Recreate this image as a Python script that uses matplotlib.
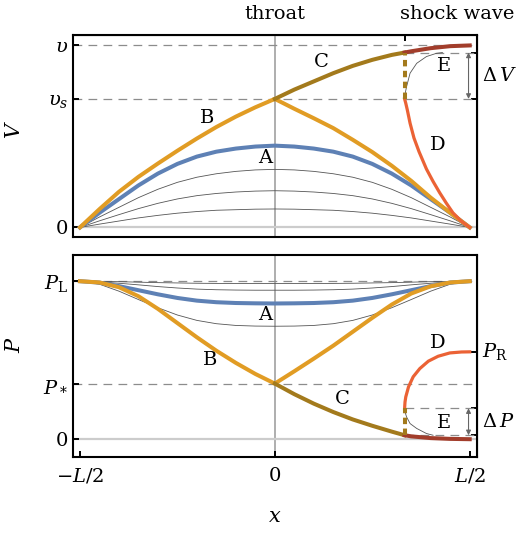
import numpy as np
import matplotlib.pyplot as plt
from matplotlib.transforms import blended_transform_factory

plt.rcParams['font.family'] = 'DejaVu Serif'
plt.rcParams['mathtext.fontset'] = 'dejavuserif'

# positions along the nozzle (units of L)
x = [-0.5, -0.45, -0.4, -0.35, -0.3, -0.25, -0.2, -0.15, -0.1, -0.05, 0.0,
     0.05, 0.1, 0.15, 0.2, 0.25, 0.3, 0.35, 0.4, 0.45, 0.5]

# speed, in units of v
v_s = 0.704
v_shock = 0.958
x_shock = 0.333
v_a = [0, 0.08, 0.155, 0.23, 0.295, 0.348, 0.388, 0.415, 0.432, 0.443, 0.448,
       0.443, 0.432, 0.415, 0.388, 0.348, 0.295, 0.23, 0.155, 0.08, 0]
v_thin1 = [0, 0.057, 0.11, 0.163, 0.209, 0.247, 0.275, 0.294, 0.307, 0.315, 0.318,
           0.315, 0.307, 0.294, 0.275, 0.247, 0.209, 0.163, 0.11, 0.057, 0]
v_thin2 = [0, 0.036, 0.07, 0.103, 0.132, 0.156, 0.174, 0.186, 0.194, 0.199, 0.201,
           0.199, 0.194, 0.186, 0.174, 0.156, 0.132, 0.103, 0.07, 0.036, 0]
v_thin3 = [0, 0.018, 0.035, 0.052, 0.066, 0.078, 0.087, 0.094, 0.097, 0.100, 0.101,
           0.100, 0.097, 0.094, 0.087, 0.078, 0.066, 0.052, 0.035, 0.018, 0]
v_b = [0, 0.1, 0.195, 0.277, 0.35, 0.42, 0.487, 0.55, 0.607, 0.658, 0.704,
       0.65, 0.598, 0.544, 0.48, 0.413, 0.338, 0.255, 0.163, 0.08, 0]
x_c = [0, 0.05, 0.1, 0.15, 0.2, 0.25, 0.3, 0.333]
v_c = [0.704, 0.755, 0.80, 0.845, 0.885, 0.918, 0.945, 0.958]
x_post = [0.333, 0.35, 0.4, 0.45, 0.5]
v_post = [0.958, 0.965, 0.982, 0.993, 0.997]
x_d = [0.333, 0.336, 0.340, 0.347, 0.357, 0.370, 0.389, 0.406, 0.423, 0.44, 0.457, 0.478, 0.5]
v_d = [0.704, 0.680, 0.643, 0.571, 0.49, 0.415, 0.32, 0.252, 0.19, 0.133, 0.08, 0.035, 0]
x_e = [0.333, 0.335, 0.338, 0.347, 0.364, 0.389, 0.415, 0.43]
v_e = [0.704, 0.740, 0.771, 0.845, 0.899, 0.936, 0.954, 0.958]

# pressure, in units of P_L
p_star = 0.352
p_R = 0.553
p_hi = 0.196
p_lo = 0.025
p_a = [1, 0.991, 0.969, 0.943, 0.917, 0.894, 0.877, 0.867, 0.862, 0.860, 0.859,
       0.860, 0.862, 0.867, 0.877, 0.894, 0.917, 0.943, 0.969, 0.991, 1]
p_thin1 = [1, 0.999, 0.997, 0.994, 0.991, 0.989, 0.987, 0.986, 0.985, 0.985, 0.985,
           0.985, 0.985, 0.986, 0.987, 0.989, 0.991, 0.994, 0.997, 0.999, 1]
p_thin2 = [1, 0.996, 0.987, 0.977, 0.966, 0.957, 0.950, 0.946, 0.944, 0.943, 0.943,
           0.943, 0.944, 0.946, 0.950, 0.957, 0.966, 0.977, 0.987, 0.996, 1]
p_thin3 = [1, 0.981, 0.937, 0.884, 0.832, 0.786, 0.752, 0.731, 0.720, 0.716, 0.715,
           0.716, 0.720, 0.731, 0.752, 0.786, 0.832, 0.884, 0.937, 0.981, 1]
p_b = [1, 0.992, 0.962, 0.905, 0.825, 0.735, 0.645, 0.56, 0.483, 0.413, 0.352,
       0.43, 0.51, 0.592, 0.68, 0.768, 0.852, 0.922, 0.968, 0.992, 1]
p_c = [0.352, 0.285, 0.225, 0.172, 0.125, 0.085, 0.048, 0.025]
p_post = [0.025, 0.018, 0.007, 0.002, 0.0]
x_dp = [0.333, 0.334, 0.336, 0.343, 0.355, 0.372, 0.394, 0.419, 0.449, 0.479, 0.5]
p_d = [0.196, 0.235, 0.268, 0.331, 0.395, 0.447, 0.494, 0.525, 0.546, 0.552, 0.553]
x_ep = [0.333, 0.335, 0.338, 0.347, 0.364, 0.389, 0.406]
p_e = [0.196, 0.165, 0.141, 0.099, 0.068, 0.036, 0.025]

BLUE = '#5E81B5'
ORANGE = '#E19C24'
RED = '#EB6235'
BROWN = '#A37A1C'
DARKRED = '#A23D2B'
DASH = '#8C8C8C'
FS = 14

fig = plt.figure(figsize=(5.21, 5.36), dpi=100)
ax1 = fig.add_axes([0.140, 0.558, 0.775, 0.377])
ax2 = fig.add_axes([0.140, 0.147, 0.775, 0.377])

thick = 2.9
dash_kw = dict(color=DASH, lw=0.9, linestyle=(0, (7, 5)), zorder=1)

for ax in (ax1, ax2):
    ax.axvline(0, color='#A8A8A8', lw=1.3, zorder=1)
    ax.axhline(0, color='#CCCCCC', lw=1.6, zorder=1)
    for s in ax.spines.values():
        s.set_linewidth(1.5)
    ax.tick_params(direction='in', length=4, width=1.4, labelsize=FS)
    ax.set_xlim(-0.518, 0.518)

# ---- top panel: speed
ax1.set_ylim(-0.052, 1.055)
ax1.axhline(1, **dash_kw)
ax1.axhline(v_s, **dash_kw)
ax1.hlines(v_shock, x_shock, 0.518, **dash_kw)
for vv in (v_thin1, v_thin2, v_thin3):
    ax1.plot(x, vv, color='#555555', lw=0.6, zorder=2)
ax1.plot(x, v_a, color=BLUE, lw=thick, zorder=3)
ax1.plot(x, v_b, color=ORANGE, lw=thick, zorder=4)
ax1.plot(x_e, v_e, color='#555555', lw=0.6, zorder=2)
ax1.plot(x_c, v_c, color=BROWN, lw=thick, zorder=5)
ax1.plot(x_post, v_post, color=DARKRED, lw=thick, zorder=5)
ax1.plot(x_d, v_d, color=RED, lw=2.3, zorder=5)
ax1.plot([x_shock, x_shock], [v_s, v_shock], color=BROWN, lw=thick,
         linestyle=(0, (1.6, 1.1)), zorder=5)
ax1.annotate('', xy=(0.497, v_shock), xytext=(0.497, v_s),
             arrowprops=dict(arrowstyle='<|-|>', color='#666666', lw=0.8,
                             mutation_scale=7, shrinkA=0, shrinkB=0))
ax1.set_yticks([0, v_s, 1])
ax1.set_yticklabels(['0', r'$\upsilon_s$', r'$\upsilon$'])
ax1.set_xticks([])
sec = ax1.secondary_xaxis('top')
sec.set_xticks([x_shock])
sec.set_xticklabels([])
sec.tick_params(direction='in', length=4, width=1.4)
sec_r = ax1.secondary_yaxis('right')
sec_r.set_yticks([v_s, v_shock])
sec_r.set_yticklabels([])
sec_r.tick_params(direction='in', length=4, width=1.4)

for lab, lx, ly in [('A', -0.026, 0.38), ('B', -0.174, 0.60), ('C', 0.12, 0.907),
                    ('D', 0.418, 0.452), ('E', 0.433, 0.885)]:
    ax1.text(lx, ly, lab, fontsize=FS, ha='center', va='center', zorder=6)
ax1.text(0.531, (v_s + v_shock) / 2, r'$\Delta\,V$', fontsize=FS, ha='left',
         va='center', clip_on=False)
tr = blended_transform_factory(ax1.transData, ax1.transAxes)
ax1.text(0, 1.104, 'throat', fontsize=FS, ha='center', va='center', transform=tr)
ax1.text(0.469, 1.104, 'shock wave', fontsize=FS, ha='center', va='center', transform=tr)

# ---- bottom panel: pressure
ax2.set_ylim(-0.114, 1.165)
ax2.axhline(1, **dash_kw)
ax2.axhline(p_star, **dash_kw)
ax2.hlines([p_hi, p_lo], x_shock, 0.518, **dash_kw)
for pp in (p_thin1, p_thin2, p_thin3):
    ax2.plot(x, pp, color='#555555', lw=0.6, zorder=2)
ax2.plot(x, p_a, color=BLUE, lw=thick, zorder=3)
ax2.plot(x, p_b, color=ORANGE, lw=thick, zorder=4)
ax2.plot(x_ep, p_e, color='#555555', lw=0.6, zorder=2)
ax2.plot(x_c, p_c, color=BROWN, lw=thick, zorder=5)
ax2.plot(x_post, p_post, color=DARKRED, lw=thick, zorder=5)
ax2.plot(x_dp, p_d, color=RED, lw=2.3, zorder=5)
ax2.plot([x_shock, x_shock], [p_lo, p_hi], color=BROWN, lw=thick,
         linestyle=(0, (1.6, 1.1)), zorder=5)
ax2.annotate('', xy=(0.497, p_hi), xytext=(0.497, p_lo),
             arrowprops=dict(arrowstyle='<|-|>', color='#666666', lw=0.8,
                             mutation_scale=7, shrinkA=0, shrinkB=0))
ax2.set_yticks([0, p_star, 1])
ax2.set_yticklabels(['0', r'$P_*$', r'$P_{\rm L}$'])
ax2.set_xticks([-0.5, 0, 0.5])
ax2.set_xticklabels([r'$-L/2$', '0', r'$L/2$'])
ax2.tick_params(axis='x', pad=7)
sec_r2 = ax2.secondary_yaxis('right')
sec_r2.set_yticks([p_lo, p_hi, p_R])
sec_r2.set_yticklabels([])
sec_r2.tick_params(direction='in', length=4, width=1.4)

for lab, lx, ly in [('A', -0.026, 0.785), ('B', -0.167, 0.50), ('C', 0.174, 0.253),
                    ('D', 0.418, 0.608), ('E', 0.433, 0.10)]:
    ax2.text(lx, ly, lab, fontsize=FS, ha='center', va='center', zorder=6)
ax2.text(0.531, p_R, r'$P_{\rm R}$', fontsize=FS, ha='left', va='center', clip_on=False)
ax2.text(0.531, (p_lo + p_hi) / 2, r'$\Delta\,P$', fontsize=FS, ha='left',
         va='center', clip_on=False)

fig.text(15 / 521, 1 - 130 / 536, r'$V$', fontsize=FS + 1, rotation=90, ha='center', va='center')
fig.text(15 / 521, 1 - 345 / 536, r'$P$', fontsize=FS + 1, rotation=90, ha='center', va='center')
fig.text(275 / 521, 1 - 517 / 536, r'$x$', fontsize=FS + 1, ha='center', va='center')

fig.savefig('out.png', dpi=100)
